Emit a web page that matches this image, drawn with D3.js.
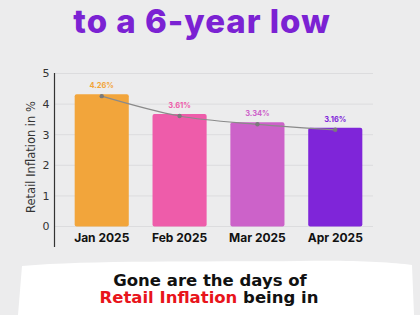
<!DOCTYPE html>
<html>
<head>
<meta charset="utf-8">
<script src="https://cdn.jsdelivr.net/npm/d3@7"></script>
<style>
  html, body { margin: 0; padding: 0; background: #ececed; }
  svg { display: block; }
</style>
</head>
<body>
<script>
/* DATA */
var months  = ['Jan 2025', 'Feb 2025', 'Mar 2025', 'Apr 2025'];
var values  = [4.26, 3.61, 3.34, 3.16];
var labels  = ['4.26%', '3.61%', '3.34%', '3.16%'];
var yTicks  = [0, 1, 2, 3, 4, 5];
var colors  = ['#f2a53b', '#ee5caa', '#cc62c9', '#7f25d9'];

/* SIZES */
var w = 420, h = 315;

var svg = d3.select('body').append('svg')
  .attr('width', w)
  .attr('height', h);

// paper background
svg.append('rect').attr('width', w).attr('height', h).attr('fill', '#ececed');

// white brush stroke behind bottom text
svg.append('path')
  .attr('d', 'M22,266 C90,260 200,262 300,261 C350,260 390,262 412,265 L414,315 L18,315 Z')
  .attr('fill', '#ffffff');

/* TITLE */
svg.append('text')
  .attr('x', 202).attr('y', 33)
  .attr('text-anchor', 'middle')
  .attr('font-family', 'Inter, sans-serif')
  .attr('font-weight', 800)
  .attr('font-size', 33)
  .attr('letter-spacing', 1)
  .attr('fill', '#7b22d3')
  .text('to a 6-year low');

/* SCALES */
var x = d3.scaleBand()
  .domain(months)
  .range([63, 374])
  .paddingInner(0.305)
  .paddingOuter(0.15);

var y = d3.scaleLinear()
  .domain([0, 5])
  .range([226.5, 73.5]);

var plot = svg.append('g');

// grid lines
plot.selectAll('.grid')
  .data(yTicks)
  .enter()
    .append('line')
    .attr('x1', 55).attr('x2', 373)
    .attr('y1', function(d){ return y(d); })
    .attr('y2', function(d){ return y(d); })
    .attr('stroke', '#dcdcde')
    .attr('stroke-width', 1);

// y axis line
plot.append('line')
  .attr('x1', 54.5).attr('x2', 54.5)
  .attr('y1', 73).attr('y2', 247)
  .attr('stroke', '#333')
  .attr('stroke-width', 1.2);

// y tick labels
plot.selectAll('.ytick')
  .data(yTicks)
  .enter()
    .append('text')
    .attr('x', 46)
    .attr('y', function(d){ return y(d); })
    .attr('dy', '0.35em')
    .attr('text-anchor', 'middle')
    .attr('font-family', '"DejaVu Sans", sans-serif')
    .attr('font-size', 11)
    .attr('fill', '#333')
    .text(function(d){ return d; });

// y axis title
svg.append('text')
  .attr('transform', 'translate(31,157) rotate(-90)')
  .attr('text-anchor', 'middle')
  .attr('dy', '0.35em')
  .attr('font-family', '"DejaVu Sans", sans-serif')
  .attr('font-size', 11.5)
  .attr('fill', '#333')
  .text('Retail Inflation in %');

/* BARS */
plot.selectAll('.bar')
  .data(values)
  .enter()
    .append('rect')
    .attr('x', function(d, i){ return x(months[i]); })
    .attr('y', function(d){ return y(d) - 2; })
    .attr('width', x.bandwidth())
    .attr('height', function(d){ return y(0) - y(d) + 2; })
    .attr('rx', 2)
    .attr('fill', function(d, i){ return colors[i]; });

/* TREND LINE */
var line = d3.line()
  .x(function(d, i){ return x(months[i]) + x.bandwidth() / 2; })
  .y(function(d){ return y(d); })
  .curve(d3.curveMonotoneX);

plot.append('path')
  .datum(values)
  .attr('d', line)
  .attr('fill', 'none')
  .attr('stroke', '#8a8a8a')
  .attr('stroke-width', 1.2);

plot.selectAll('.dot')
  .data(values)
  .enter()
    .append('circle')
    .attr('cx', function(d, i){ return x(months[i]) + x.bandwidth() / 2; })
    .attr('cy', function(d){ return y(d); })
    .attr('r', 2.2)
    .attr('fill', '#7a7a7a');

// value labels
plot.selectAll('.val')
  .data(values)
  .enter()
    .append('text')
    .attr('x', function(d, i){ return x(months[i]) + x.bandwidth() / 2; })
    .attr('y', function(d){ return y(d) - 8; })
    .attr('text-anchor', 'middle')
    .attr('font-family', 'Inter, sans-serif')
    .attr('font-weight', 700)
    .attr('font-size', 7.5)
    .attr('fill', function(d, i){ return colors[i]; })
    .text(function(d, i){ return labels[i]; });

// x labels
plot.selectAll('.xlab')
  .data(months)
  .enter()
    .append('text')
    .attr('x', function(d){ return x(d) + x.bandwidth() / 2; })
    .attr('y', 242)
    .attr('text-anchor', 'middle')
    .attr('font-family', 'Inter, sans-serif')
    .attr('font-weight', 700)
    .attr('font-size', 12)
    .attr('fill', '#111')
    .text(function(d){ return d; });

/* BOTTOM TEXT */
svg.append('text')
  .attr('x', 210).attr('y', 286)
  .attr('text-anchor', 'middle')
  .attr('font-family', '"DejaVu Sans", sans-serif')
  .attr('font-weight', 700)
  .attr('font-size', 16.5)
  .attr('fill', '#111')
  .text('Gone are the days of');

var t2 = svg.append('text')
  .attr('x', 209).attr('y', 303)
  .attr('text-anchor', 'middle')
  .attr('font-family', '"DejaVu Sans", sans-serif')
  .attr('font-weight', 700)
  .attr('font-size', 16.5)
  .attr('fill', '#111');
t2.append('tspan').attr('fill', '#e8141b').text('Retail Inflation');
t2.append('tspan').text(' being in');
</script>
</body>
</html>
